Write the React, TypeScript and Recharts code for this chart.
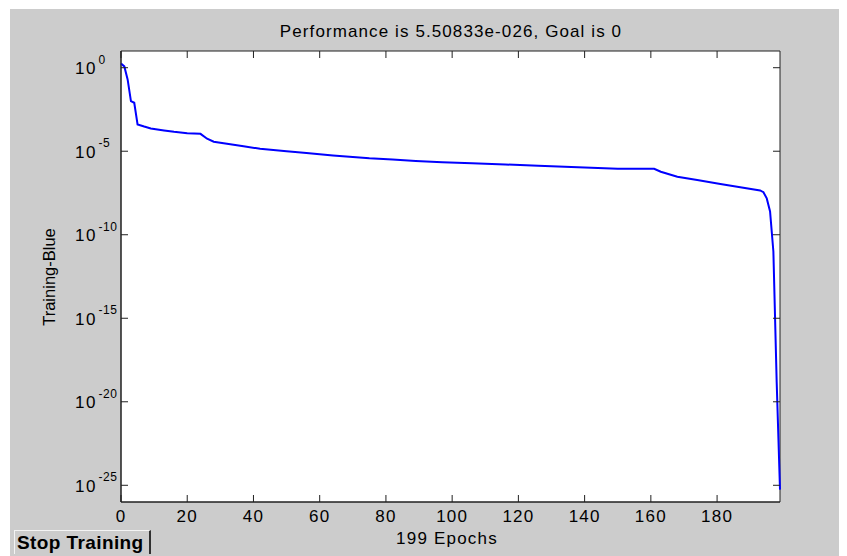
import React from 'react';
import { LineChart, Line, XAxis, YAxis, ReferenceArea } from 'recharts';

// training performance (epoch -> mse)
const epochs = [
  0, 1, 2, 3, 4, 5, 7, 9, 13, 16, 20, 24, 26, 28, 32, 37, 42, 50, 56, 64, 69, 75,
  82, 89, 97, 106, 116, 126, 138, 150, 161, 163, 168, 174, 181, 187, 193, 194,
  195, 196, 197, 198, 199,
];
const performance = [
  1.8, 1.2, 2e-1, 1e-2, 8e-3, 4e-4, 3e-4, 2.3e-4, 1.75e-4, 1.45e-4, 1.2e-4, 1.1e-4,
  5.6e-5, 3.7e-5, 2.8e-5, 2e-5, 1.4e-5, 1e-5, 7.9e-6, 5.6e-6, 4.7e-6, 3.8e-6,
  3.2e-6, 2.6e-6, 2.2e-6, 1.9e-6, 1.6e-6, 1.35e-6, 1.1e-6, 8.9e-7, 8.9e-7, 5.9e-7,
  3e-7, 1.9e-7, 1.1e-7, 7e-8, 4.5e-8, 3.5e-8, 1.5e-8, 2.5e-9, 1e-11, 1.5e-19,
  5.50833e-26,
];
const xTicks = [0, 20, 40, 60, 80, 100, 120, 140, 160, 180];
const yTicks = [1, 1e-5, 1e-10, 1e-15, 1e-20, 1e-25];
const yExponents = ['0', '-5', '-10', '-15', '-20', '-25'];

const data = epochs.map((epoch, i) => ({ epoch, perf: performance[i] }));

const W = 837;
const H = 547;
const PLOT_TOP = 42;
const PLOT_RIGHT = 770;
const FONT = '"Liberation Sans", Arial, sans-serif';
const AXIS = '#202020';

const XTick = (props: any) => {
  const { x, y, payload } = props;
  return (
    <g>
      <line x1={x} y1={y} x2={x} y2={y - 7} stroke={AXIS} />
      <line x1={x} y1={PLOT_TOP} x2={x} y2={PLOT_TOP + 7} stroke={AXIS} />
      <text x={x} y={y + 14} textAnchor="middle" dominantBaseline="central" fontSize={17} letterSpacing={1.2} fontFamily={FONT} fill="#000">
        {payload.value}
      </text>
    </g>
  );
};

const YTick = (props: any) => {
  const { x, y, payload } = props;
  const i = yTicks.indexOf(payload.value);
  return (
    <g>
      <line x1={x} y1={y} x2={x + 7} y2={y} stroke={AXIS} />
      <line x1={PLOT_RIGHT} y1={y} x2={PLOT_RIGHT - 7} y2={y} stroke={AXIS} />
      <text x={x - 24} y={y + 1} textAnchor="end" dominantBaseline="central" fontSize={17} letterSpacing={1.5} fontFamily={FONT} fill="#000">
        10
      </text>
      <text x={x - 22.5} y={y - 8} textAnchor="start" dominantBaseline="central" fontSize={12} letterSpacing={0.5} fontFamily={FONT} fill="#000">
        {yExponents[i]}
      </text>
    </g>
  );
};

export default function App() {
  return (
    <div style={{ position: 'relative', marginLeft: 2, marginTop: 1, width: W, height: H, background: '#cccccc' }}>
      <LineChart width={W} height={H} data={data} margin={{ top: PLOT_TOP, right: W - PLOT_RIGHT, bottom: 24, left: 20 }}>
        <ReferenceArea x1={0} x2={199} y1={1e-26} y2={10} fill="#ffffff" fillOpacity={1} stroke={AXIS} strokeWidth={1} ifOverflow="visible" />
        <XAxis
          dataKey="epoch"
          type="number"
          domain={[0, 199]}
          ticks={xTicks}
          interval={0}
          height={30}
          tickSize={0}
          tickMargin={0}
          tickLine={false}
          axisLine={{ stroke: AXIS }}
          tick={<XTick />}
        />
        <YAxis
          type="number"
          scale="log"
          domain={[1e-26, 10]}
          allowDataOverflow
          ticks={yTicks}
          interval={0}
          width={91}
          tickSize={0}
          tickMargin={0}
          tickLine={false}
          axisLine={{ stroke: AXIS }}
          tick={<YTick />}
        />
        <Line type="linear" dataKey="perf" stroke="#0000ff" strokeWidth={2} dot={false} isAnimationActive={false} />
      </LineChart>
      <div style={{ position: 'absolute', left: 441, top: 23, transform: 'translate(-50%, -50%)', whiteSpace: 'nowrap', fontFamily: FONT, fontSize: 17, letterSpacing: 1.1 }}>
        Performance is 5.50833e-026, Goal is 0
      </div>
      <div style={{ position: 'absolute', left: 437, top: 530, transform: 'translate(-50%, -50%)', whiteSpace: 'nowrap', fontFamily: FONT, fontSize: 17, letterSpacing: 1.2 }}>
        199 Epochs
      </div>
      <div style={{ position: 'absolute', left: 39, top: 268, transform: 'translate(-50%, -50%) rotate(-90deg)', whiteSpace: 'nowrap', fontFamily: FONT, fontSize: 16.5 }}>
        Training-Blue
      </div>
      <div
        style={{
          position: 'absolute', left: 4, top: 521, width: 137, height: 24, boxSizing: 'border-box',
          borderTop: '1px solid #f4f4f4', borderLeft: '1px solid #f4f4f4', borderRight: '2px solid #303030',
          fontFamily: FONT, fontWeight: 'bold', fontSize: 19, letterSpacing: 0.4, lineHeight: '24px', paddingLeft: 2, whiteSpace: 'nowrap',
        }}
      >
        Stop Training
      </div>
    </div>
  );
}
